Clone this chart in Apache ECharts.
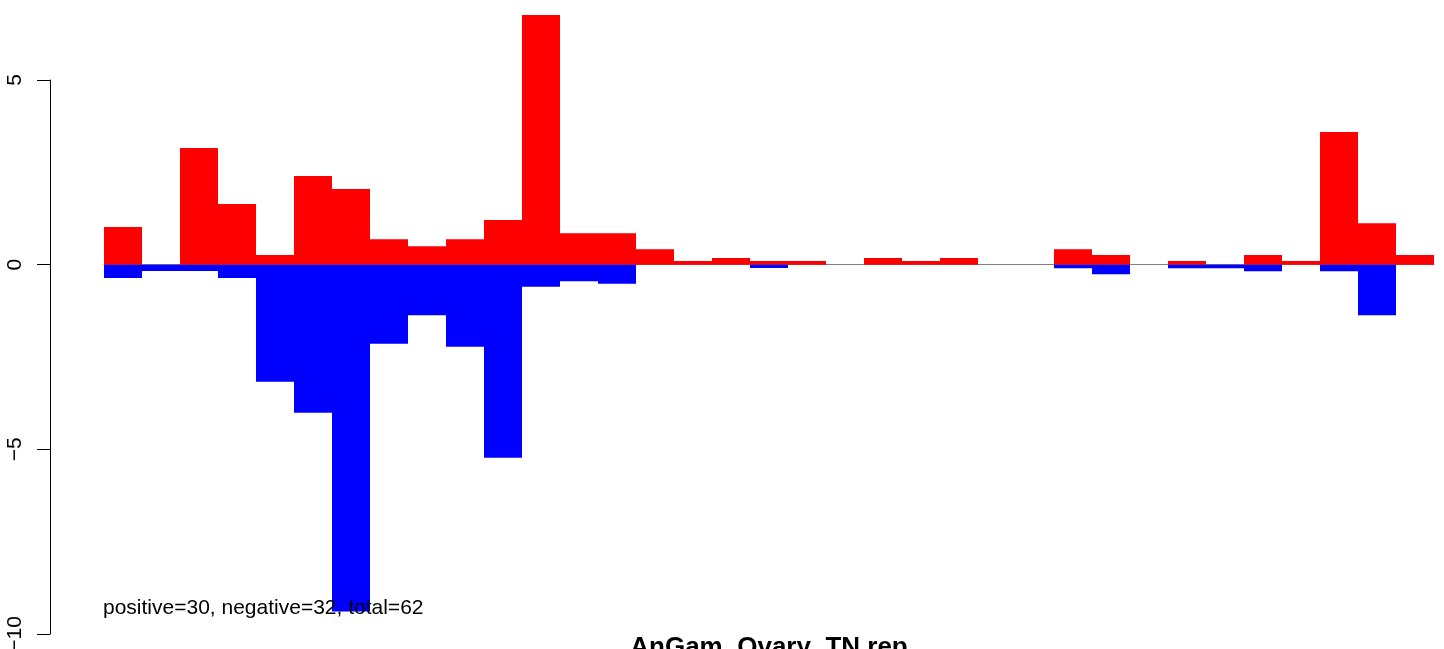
<!DOCTYPE html>
<html>
<head>
<meta charset="utf-8">
<script src="https://cdn.jsdelivr.net/npm/echarts@6/dist/echarts.min.js"></script>
<style>
html,body{margin:0;padding:0;background:#fff;}
#c{width:1444px;height:649px;}
</style>
</head>
<body>
<div id="c"></div>
<script>
// 35 bins, left to right
const categories = ["1","2","3","4","5","6","7","8","9","10","11","12","13","14","15","16","17","18","19","20","21","22","23","24","25","26","27","28","29","30","31","32","33","34","35"];
const positiveValues = [1.02,0,3.16,1.64,0.26,2.40,2.05,0.69,0.50,0.69,1.21,6.76,0.85,0.85,0.42,0.10,0.18,0.10,0.10,0,0.18,0.10,0.18,0,0,0.42,0.26,0,0.10,0,0.26,0.10,3.59,1.12,0.26];
const negativeValues = [-0.36,-0.17,-0.17,-0.36,-3.17,-4.01,-9.39,-2.14,-1.37,-2.22,-5.23,-0.60,-0.45,-0.52,0,0,0,-0.09,0,0,0,0,0,0,0,-0.10,-0.26,0,-0.10,-0.10,-0.18,0,-0.18,-1.37,0];
const yTicks = [-10,-5,0,5];
const statsText = "positive=30, negative=32, total=62";
const titleText = "AnGam_Ovary_TN.rep";

const FONT = 'Liberation Sans, Arial, sans-serif';
const chart = echarts.init(document.getElementById('c'));
chart.setOption({
  animation: false,
  backgroundColor: '#ffffff',
  textStyle: {fontFamily: FONT},
  grid: {left: 104, right: 10, top: 80, height: 554, containLabel: false, outerBoundsMode: 'none'},
  xAxis: {
    type: 'category',
    data: categories,
    boundaryGap: true,
    axisLine: {onZero: true, lineStyle: {color: '#808080', width: 1}},
    axisTick: {show: false},
    axisLabel: {show: false},
    splitLine: {show: false}
  },
  yAxis: {
    type: 'value',
    min: -10, max: 5, interval: 5,
    offset: 54,
    axisLine: {show: true, lineStyle: {color: '#000', width: 1}},
    axisTick: {show: true, length: 13, lineStyle: {color: '#000'}},
    axisLabel: {
      show: true, rotate: 90, margin: 24,
      fontSize: 21, color: '#000', fontFamily: FONT,
      formatter: v => yTicks.includes(v) ? (v < 0 ? '\u2212' + Math.abs(v) : String(v)) : ''
    },
    splitLine: {show: false}
  },
  series: [
    {type: 'bar', name: 'positive', data: positiveValues, barWidth: '100%', barGap: '-100%', clip: false,
     itemStyle: {color: '#ff0000'}, z: 2},
    {type: 'bar', name: 'negative', data: negativeValues, barWidth: '100%', barGap: '-100%', clip: false,
     itemStyle: {color: '#0000ff'}, z: 2}
  ],
  graphic: [
    {type: 'text', x: 103, y: 608, z: 100,
     style: {text: statsText, fontSize: 21, fill: '#000', verticalAlign: 'middle', fontFamily: FONT}},
    {type: 'text', x: 769, y: 635, z: 100,
     style: {text: titleText, fontSize: 26, fontWeight: 'bold', fill: '#000', align: 'center', verticalAlign: 'top', fontFamily: FONT}}
  ]
});
</script>
</body>
</html>
